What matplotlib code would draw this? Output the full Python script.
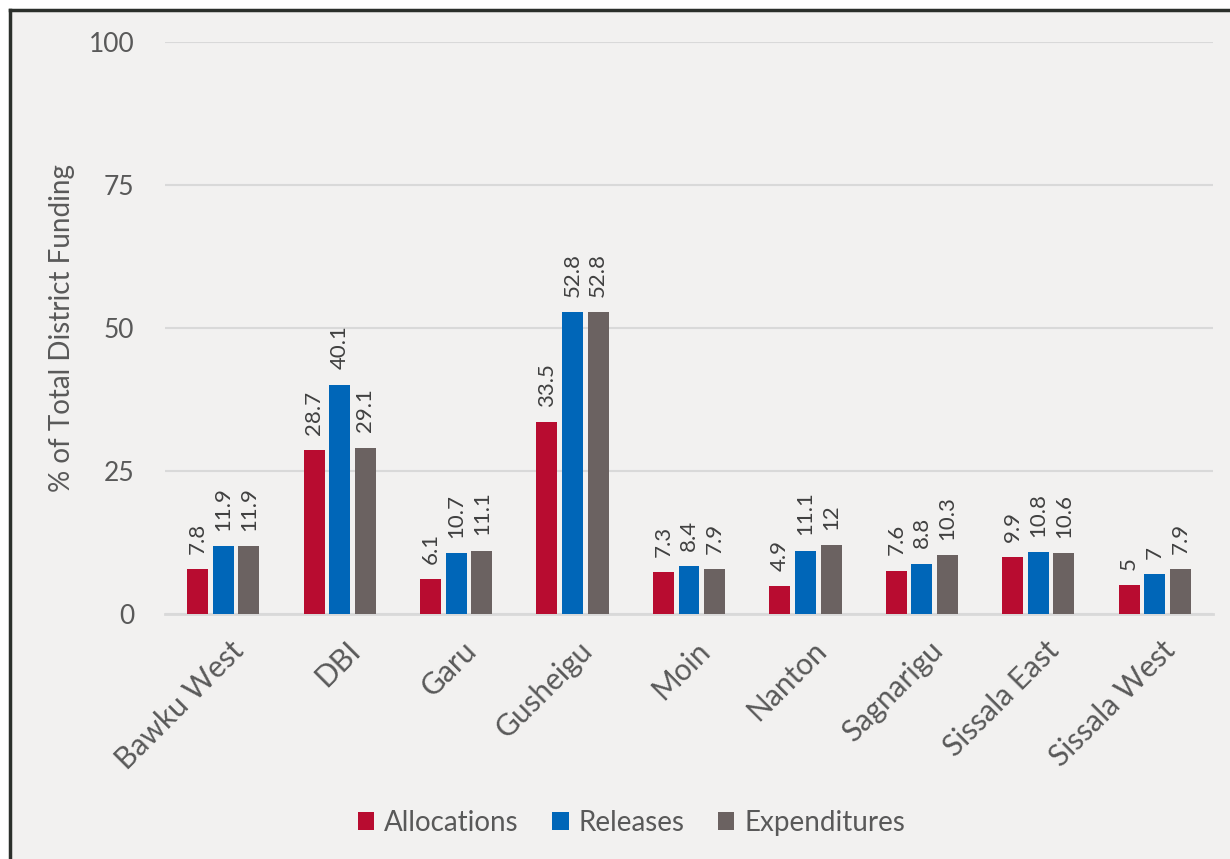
import matplotlib.pyplot as plt
import numpy as np
from matplotlib.patches import Rectangle
from matplotlib.lines import Line2D
from matplotlib.transforms import ScaledTranslation

plt.rcParams['font.family'] = ['Lato', 'DejaVu Sans']

districts = ['Bawku West', 'DBI', 'Garu', 'Gusheigu', 'Moin', 'Nanton',
             'Sagnarigu', 'Sissala East', 'Sissala West']
allocations = [7.8, 28.7, 6.1, 33.5, 7.3, 4.9, 7.6, 9.9, 5]
releases = [11.9, 40.1, 10.7, 52.8, 8.4, 11.1, 8.8, 10.8, 7]
expenditures = [11.9, 29.1, 11.1, 52.8, 7.9, 12, 10.3, 10.6, 7.9]
yticks = [0, 25, 50, 75, 100]

text_c = '#595959'
bg = '#f2f1f0'

fig = plt.figure(figsize=(12.3, 8.59), dpi=100, facecolor='white')
# chart area background with border on top and left
fig.add_artist(Rectangle((10 / 1230, 0), 1 - 10 / 1230, 1 - 10 / 859,
                         transform=fig.transFigure, facecolor=bg, edgecolor='none', zorder=0))
fig.add_artist(Line2D([10 / 1230, 10 / 1230], [0, 1 - 10 / 859], transform=fig.transFigure,
                      color='#2b2f2b', lw=2.5))
fig.add_artist(Line2D([10 / 1230, 1], [1 - 10 / 859, 1 - 10 / 859], transform=fig.transFigure,
                      color='#2b2f2b', lw=2.5))

ax = fig.add_axes([165 / 1230, 1 - 614 / 859, (1213 - 165) / 1230, (614 - 42) / 859])
ax.set_facecolor('none')

x = np.arange(len(districts))
w = 0.18
step = 0.22
series = [(allocations, '#b80c30', 'Allocations'),
          (releases, '#0066b8', 'Releases'),
          (expenditures, '#6b6261', 'Expenditures')]
for i, (vals, col, name) in enumerate(series):
    bars = ax.bar(x + (i - 1) * step, vals, width=w, color=col, label=name, zorder=3)
    for b, v in zip(bars, vals):
        ax.annotate(f'{v:g}', (b.get_x() + b.get_width() / 2, v), xytext=(0, 11),
                    textcoords='offset points', rotation=90,
                    ha='center', va='bottom', fontsize=16, color='#404040')

ax.set_xlim(-0.5, len(districts) - 0.5)
ax.set_ylim(0, 100)
ax.set_yticks(yticks)
ax.yaxis.grid(True, color='#d9d9d9', lw=1.5, zorder=0)
ax.set_axisbelow(True)
for s in ['top', 'right', 'left']:
    ax.spines[s].set_visible(False)
ax.spines['bottom'].set_color('#d9d9d9')
ax.spines['bottom'].set_linewidth(2)
ax.tick_params(axis='both', length=0, labelsize=19, colors=text_c)
ax.tick_params(axis='y', pad=22)
ax.tick_params(axis='x', pad=16, labelsize=21.5)
ax.set_xticks(x)
ax.set_xticklabels(districts, rotation=45, ha='right', rotation_mode='anchor')
shift = ScaledTranslation(6 / 100, 0, fig.dpi_scale_trans)
for lab in ax.get_xticklabels():
    lab.set_transform(lab.get_transform() + shift)
ax.set_ylabel('% of Total District Funding', fontsize=20, color=text_c, labelpad=10)

ax.legend(loc='center', bbox_to_anchor=(0.445, -0.365), ncol=3, frameon=False,
          fontsize=20, labelcolor=text_c, handlelength=0.6, handleheight=0.6,
          handletextpad=0.35, columnspacing=1.2)

plt.savefig('out.png', dpi=100, facecolor=fig.get_facecolor())
